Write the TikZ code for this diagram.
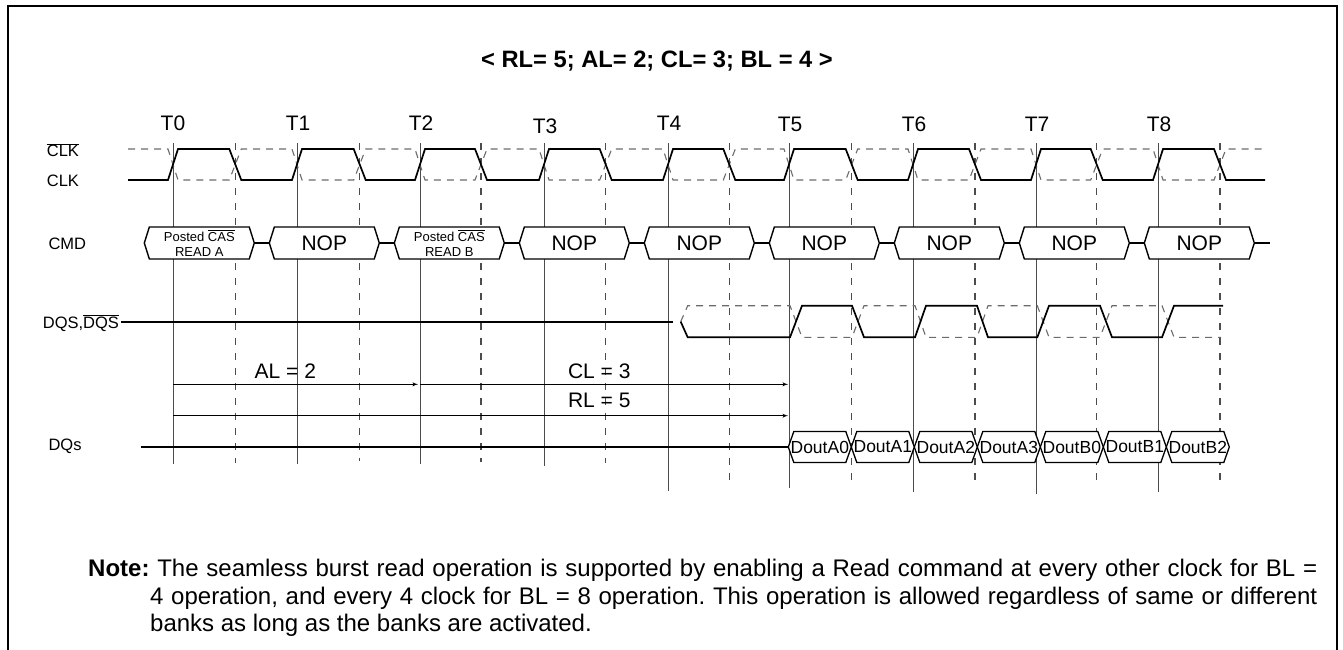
\documentclass[tikz,border=0pt]{standalone}
\usepackage{fontspec}
\setmainfont{Liberation Sans}
\usepackage{tikz}
\usetikzlibrary{arrows}
\usetikzlibrary{shapes.symbols}
\usetikzlibrary{positioning}
\definecolor{mgrey}{rgb}{0.42, 0.42, 0.42}
\definecolor{mdark}{rgb}{0.3, 0.3, 0.3}
\newcommand{\fsize}[2]{\fontsize{#1}{#2}\selectfont}
\newcommand{\ovl}[1]{$\overline{\mbox{#1}}$}
\tikzset{
  wave/.style={line width=1.7pt, line join=miter},
  wavebar/.style={line width=1.1pt, mgrey, dash pattern=on 7pt off 6pt},
  tmark/.style={line width=0.9pt, mdark},
  halfmark/.style={line width=1.2pt, mdark, dash pattern=on 7pt off 8pt},
  cmdbox/.style={draw, fill=white, line width=1.4pt, shape=signal, signal to=west and east,
    signal pointer angle=145, minimum width=110pt, minimum height=32pt,
    inner sep=0pt, outer sep=0pt, align=center, font=\fsize{21}{23}},
  cmdsmall/.style={cmdbox, font=\fsize{13}{15}},
  doutbox/.style={draw, fill=white, line width=1.3pt, shape=signal, signal to=west and east,
    signal pointer angle=141, minimum width=63pt, minimum height=31pt,
    inner sep=0pt, outer sep=0pt, font=\fsize{17.5}{19}},
  rowlabel/.style={anchor=base west, inner sep=0pt, font=\fsize{16.5}{18}},
  tlabel/.style={anchor=base, inner sep=0pt, font=\fsize{21}{23}},
  latlabel/.style={anchor=base, inner sep=0pt, font=\fsize{21}{23}},
  note/.style={anchor=north west, inner sep=0pt, text width=1229pt, align=justify,
    font=\fsize{24}{27.5}}
}

\begin{document}
\begin{tikzpicture}[x=1pt, y=-1pt]
    \useasboundingbox (0, 0) rectangle (1343, 649);
    \draw [line width=2pt] (8, 660) -- (8, 6) -- (1337, 6) -- (1337, 660);

    \node [font=\fsize{23.7}{26}\bfseries] (title) at (657, 61) {< RL= 5; AL= 2; CL= 3; BL = 4 >};

    % clock edges
    \coordinate (t0) at (173, 143);
    \coordinate (t1) at (297, 143);
    \coordinate (t2) at (420, 143);
    \coordinate (t3) at (544, 143);
    \coordinate (t4) at (668, 143);
    \coordinate (t5) at (789, 143);
    \coordinate (t6) at (913, 143);
    \coordinate (t7) at (1036, 143);
    \coordinate (t8) at (1158, 143);

    \coordinate (h0) at (235.3, 143);
    \coordinate (h1) at (359.7, 143);
    \coordinate (h2) at (481, 143);
    \coordinate (h3) at (605.7, 143);
    \coordinate (h4) at (729.3, 143);
    \coordinate (h5) at (851.7, 143);
    \coordinate (h6) at (975, 143);
    \coordinate (h7) at (1096.7, 143);
    \coordinate (h8) at (1220, 143);

    \draw [tmark] (t0) -- ++(0, 321);
    \draw [tmark] (t1) -- ++(0, 321);
    \draw [tmark] (t2) -- ++(0, 321);
    \draw [tmark] (t3) -- ++(0, 323);
    \draw [tmark] (t4) -- ++(0, 348);
    \draw [tmark] (t5) -- ++(0, 345);
    \draw [tmark] (t6) -- ++(0, 349);
    \draw [tmark] (t7) -- ++(0, 351);
    \draw [tmark] (t8) -- ++(0, 349);

    \draw [halfmark] (h0) -- ++(0, 320);
    \draw [halfmark] (h1) -- ++(0, 318);
    \draw [halfmark] (h2) -- ++(0, 319);
    \draw [halfmark] (h3) -- ++(0, 320);
    \draw [halfmark] (h4) -- ++(0, 339);
    \draw [halfmark] (h5) -- ++(0, 342);
    \draw [halfmark] (h6) -- ++(0, 342);
    \draw [halfmark] (h7) -- ++(0, 340);
    \draw [halfmark] (h8) -- ++(0, 340);

    \node [tlabel] (lt0) at (173, 130.7) {T0};
    \node [tlabel] (lt1) at (298, 130.7) {T1};
    \node [tlabel] (lt2) at (421, 130.7) {T2};
    \node [tlabel] (lt3) at (545, 133.3) {T3};
    \node [tlabel] (lt4) at (669, 130) {T4};
    \node [tlabel] (lt5) at (790, 131.7) {T5};
    \node [tlabel] (lt6) at (914, 131.7) {T6};
    \node [tlabel] (lt7) at (1037, 131.7) {T7};
    \node [tlabel] (lt8) at (1159, 131) {T8};

    % row names
    \node [rowlabel] (lclkb) at (46.7, 156.7) {\ovl{CLK}};
    \node [rowlabel] (lclk) at (46.7, 186) {CLK};
    \node [rowlabel] (lcmd) at (48.3, 249) {CMD};
    \node [rowlabel] (ldqs) at (42.7, 328.3) {DQS,\ovl{DQS}};
    \node [rowlabel] (ldq) at (48.3, 450) {DQs};

    % CLK and CLK#
    \draw [wavebar] (128, 149) -- (168, 149) -- (178, 180) -- (229.3, 180) -- (241.3, 149)
      -- (292, 149) -- (302, 180) -- (353.7, 180) -- (365.7, 149)
      -- (415, 149) -- (425, 180) -- (475, 180) -- (487, 149)
      -- (539, 149) -- (549, 180) -- (599.7, 180) -- (611.7, 149)
      -- (663, 149) -- (673, 180) -- (723.3, 180) -- (735.3, 149)
      -- (784, 149) -- (794, 180) -- (845.7, 180) -- (857.7, 149)
      -- (908, 149) -- (918, 180) -- (969, 180) -- (981, 149)
      -- (1031, 149) -- (1041, 180) -- (1090.7, 180) -- (1102.7, 149)
      -- (1153, 149) -- (1163, 180) -- (1214, 180) -- (1226, 149) -- (1263, 149);
    \draw [wave] (128, 180) -- (168, 180) -- (178, 149) -- (229.3, 149) -- (241.3, 180)
      -- (292, 180) -- (302, 149) -- (353.7, 149) -- (365.7, 180)
      -- (415, 180) -- (425, 149) -- (475, 149) -- (487, 180)
      -- (539, 180) -- (549, 149) -- (599.7, 149) -- (611.7, 180)
      -- (663, 180) -- (673, 149) -- (723.3, 149) -- (735.3, 180)
      -- (784, 180) -- (794, 149) -- (845.7, 149) -- (857.7, 180)
      -- (908, 180) -- (918, 149) -- (969, 149) -- (981, 180)
      -- (1031, 180) -- (1041, 149) -- (1090.7, 149) -- (1102.7, 180)
      -- (1153, 180) -- (1163, 149) -- (1214, 149) -- (1226, 180) -- (1265, 180);

    % command bus
    \node [cmdsmall, anchor=west] (c0) at (144.3, 243) {Posted \ovl{CAS}\\READ A};
    \node [cmdbox, right=15pt of c0] (c1) {NOP};
    \node [cmdsmall, right=15pt of c1] (c2) {Posted \ovl{CAS}\\READ B};
    \node [cmdbox, right=15pt of c2] (c3) {NOP};
    \node [cmdbox, right=15pt of c3] (c4) {NOP};
    \node [cmdbox, right=15pt of c4] (c5) {NOP};
    \node [cmdbox, right=15pt of c5] (c6) {NOP};
    \node [cmdbox, right=15pt of c6] (c7) {NOP};
    \node [cmdbox, right=15pt of c7] (c8) {NOP};
    \coordinate (cmdend) at (1270, 243);

    \draw [line width=1.4pt] (c0.east) -- (c1.west);
    \draw [line width=1.4pt] (c1.east) -- (c2.west);
    \draw [line width=1.4pt] (c2.east) -- (c3.west);
    \draw [line width=1.4pt] (c3.east) -- (c4.west);
    \draw [line width=1.4pt] (c4.east) -- (c5.west);
    \draw [line width=1.4pt] (c5.east) -- (c6.west);
    \draw [line width=1.4pt] (c6.east) -- (c7.west);
    \draw [line width=1.4pt] (c7.east) -- (c8.west);
    \draw [line width=1.4pt] (c8.east) -- (cmdend);

    % DQS and DQS#
    \coordinate (dqsmid) at (673.3, 321.7);
    \draw [wave] ([xshift=2pt]ldqs.east |- dqsmid) -- (dqsmid);
    \draw [wavebar] (680.7, 321.7) -- (687.7, 305.7) -- (790, 305.7) -- (802, 337.3)
      -- (852, 337.3) -- (864, 305.7) -- (915, 305.7) -- (926, 337.3)
      -- (977, 337.3) -- (988, 305.7) -- (1037.3, 305.7) -- (1049, 337.3)
      -- (1100, 337.3) -- (1112, 305.7) -- (1162, 305.7) -- (1174, 337.3) -- (1221, 337.3);
    \draw [wave] (680.7, 321.7) -- (687.7, 337.3) -- (790, 337.3) -- (802, 305.7)
      -- (852, 305.7) -- (864, 337.3) -- (915, 337.3) -- (926, 305.7)
      -- (977, 305.7) -- (988, 337.3) -- (1037.3, 337.3) -- (1049, 305.7)
      -- (1100, 305.7) -- (1112, 337.3) -- (1162, 337.3) -- (1174, 305.7) -- (1223, 305.7);

    % latencies
    \coordinate (alrow) at (0, 384.3);
    \coordinate (rlrow) at (0, 415.7);
    \draw [-latex', line width=0.9pt, shorten >=2pt] (t0 |- alrow) -- (t2 |- alrow);
    \draw [-latex', line width=0.9pt, shorten >=1pt] (t2 |- alrow) -- (t5 |- alrow);
    \draw [-latex', line width=0.9pt, shorten >=1pt] (t0 |- rlrow) -- (t5 |- rlrow);
    \node [latlabel] (al) at (285.3, 378.3) {AL = 2};
    \node [latlabel] (cl) at (599.3, 378.7) {CL = 3};
    \node [latlabel] (rl) at (599.3, 407.7) {RL = 5};

    % data bus
    \node [doutbox, anchor=west] (d0) at (788.3, 447) {\makebox[36pt]{DoutA0}};
    \node [doutbox, right=0pt of d0] (d1) {\makebox[36pt]{DoutA1}};
    \node [doutbox, right=0pt of d1] (d2) {\makebox[36pt]{DoutA2}};
    \node [doutbox, right=0pt of d2] (d3) {\makebox[36pt]{DoutA3}};
    \node [doutbox, right=0pt of d3] (d4) {\makebox[36pt]{DoutB0}};
    \node [doutbox, right=0pt of d4] (d5) {\makebox[36pt]{DoutB1}};
    \node [doutbox, right=0pt of d5] (d6) {\makebox[36pt]{DoutB2}};
    \coordinate (dqstart) at (140.7, 447);
    \draw [line width=1.4pt] (dqstart) -- (d0.west);

    \node [note] (txt) at (88, 559) {\frenchspacing\noindent\hangindent=62pt\hangafter=1 \textbf{Note:} The seamless burst read operation is supported by enabling a Read command at every other clock for BL =\linebreak 4 operation, and every 4 clock for BL = 8 operation. This operation is allowed regardless of same or different\linebreak banks as long as the banks are activated.\par};
\end{tikzpicture}
\end{document}
